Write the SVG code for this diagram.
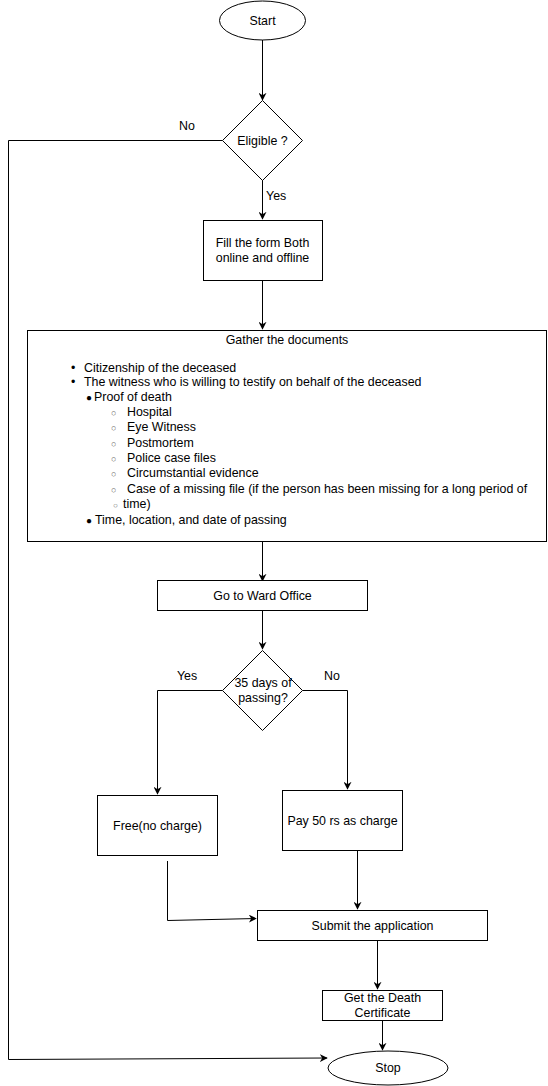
<svg xmlns="http://www.w3.org/2000/svg" width="548" height="1086" viewBox="0 0 548 1086">
<defs>
<style>
.s{fill:#fff;stroke:#000;stroke-width:1}
.t{font-family:"Liberation Sans",Arial,sans-serif;font-size:12.4px;fill:#000}
.c{text-anchor:middle}
.e{fill:none;stroke:#000;stroke-width:1}
.b{font-size:10px}
.o{font-size:9px;fill:#666}
</style>
<marker id="a" viewBox="0 0 10 10" refX="9" refY="5" markerWidth="8" markerHeight="8" markerUnits="userSpaceOnUse" orient="auto">
<path d="M0,0 L10,5 L0,10 L3,5 Z" fill="#000"/>
</marker>
</defs>
<rect width="548" height="1086" fill="#fff"/>
<g id="connectors">
<path class="e" d="M262.5,40 V100" marker-end="url(#a)"/>
<path class="e" d="M222.5,140.5 H8.5 V1059.5 L327,1058" marker-end="url(#a)"/>
<path class="e" d="M262.5,180 V219" marker-end="url(#a)"/>
<path class="e" d="M262.5,280 V329" marker-end="url(#a)"/>
<path class="e" d="M262.5,541 V581" marker-end="url(#a)"/>
<path class="e" d="M262.5,610 V649" marker-end="url(#a)"/>
<path class="e" d="M222.5,690.5 H157.5 V794" marker-end="url(#a)"/>
<path class="e" d="M302.5,690.5 H347.5 V789" marker-end="url(#a)"/>
<path class="e" d="M357.5,850 V909" marker-end="url(#a)"/>
<path class="e" d="M167.5,861 V920.5 L256,918.5" marker-end="url(#a)"/>
<path class="e" d="M377.5,940 V989" marker-end="url(#a)"/>
<path class="e" d="M382.5,1020 V1050" marker-end="url(#a)"/>
<text class="t" x="187" y="130" text-anchor="middle">No</text>
<text class="t" x="266" y="200">Yes</text>
<text class="t" x="187" y="680" text-anchor="middle">Yes</text>
<text class="t" x="332" y="680" text-anchor="middle">No</text>
</g>
<g id="start">
<ellipse class="s" cx="262.5" cy="20.5" rx="43" ry="19.5"/>
<text class="t c" x="262.5" y="24.5">Start</text>
</g>
<g id="eligible">
<path class="s" d="M262.5,100.5 L302.5,140.5 L262.5,180.5 L222.5,140.5 Z"/>
<text class="t c" x="262.5" y="144.5">Eligible ?</text>
</g>
<g id="fill-form">
<rect class="s" x="203.5" y="220.5" width="119" height="60"/>
<text class="t c" x="262.5" y="247">Fill the form Both</text>
<text class="t c" x="262.5" y="262">online and offline</text>
</g>
<g id="gather">
<rect class="s" x="27.5" y="330.5" width="519" height="211"/>
<text class="t c" x="287" y="344">Gather the documents</text>
<text class="t" x="71" y="372">•</text>
<text class="t" x="84" y="372">Citizenship of the deceased</text>
<text class="t" x="71" y="386">•</text>
<text class="t" x="84" y="386">The witness who is willing to testify on behalf of the deceased</text>
<text class="t b" x="86" y="401">●</text>
<text class="t" x="94" y="401">Proof of death</text>
<text class="t o" x="111" y="416">○</text>
<text class="t" x="127" y="416">Hospital</text>
<text class="t o" x="111" y="431">○</text>
<text class="t" x="127" y="431">Eye Witness</text>
<text class="t o" x="111" y="447">○</text>
<text class="t" x="127" y="447">Postmortem</text>
<text class="t o" x="111" y="462">○</text>
<text class="t" x="127" y="462">Police case files</text>
<text class="t o" x="111" y="477">○</text>
<text class="t" x="127" y="477">Circumstantial evidence</text>
<text class="t o" x="111" y="493">○</text>
<text class="t" x="127" y="493">Case of a missing file (if the person has been missing for a long period of</text>
<text class="t o" x="113" y="508" style="font-size:8px">○</text>
<text class="t" x="123" y="508">time)</text>
<text class="t b" x="86" y="524">●</text>
<text class="t" x="95" y="524">Time, location, and date of passing</text>
</g>
<g id="ward">
<rect class="s" x="157.5" y="580.5" width="210" height="30"/>
<text class="t c" x="262.5" y="600">Go to Ward Office</text>
</g>
<g id="days">
<path class="s" d="M262.5,650.5 L302.5,690.5 L262.5,730.5 L222.5,690.5 Z"/>
<text class="t c" x="263" y="687">35 days of</text>
<text class="t c" x="263" y="702">passing?</text>
</g>
<g id="free">
<rect class="s" x="97.5" y="795.5" width="120" height="60"/>
<text class="t c" x="157.5" y="830">Free(no charge)</text>
</g>
<g id="pay">
<rect class="s" x="282.5" y="790.5" width="120" height="60"/>
<text class="t c" x="342.5" y="825">Pay 50 rs as charge</text>
</g>
<g id="submit">
<rect class="s" x="257.5" y="910.5" width="230" height="30"/>
<text class="t c" x="372.5" y="930">Submit the application</text>
</g>
<g id="certificate">
<rect class="s" x="322.5" y="990.5" width="120" height="30"/>
<text class="t c" x="382.5" y="1002">Get the Death</text>
<text class="t c" x="382.5" y="1017">Certificate</text>
</g>
<g id="stop">
<ellipse class="s" cx="388" cy="1068" rx="60" ry="17"/>
<text class="t c" x="388" y="1072">Stop</text>
</g>
</svg>
